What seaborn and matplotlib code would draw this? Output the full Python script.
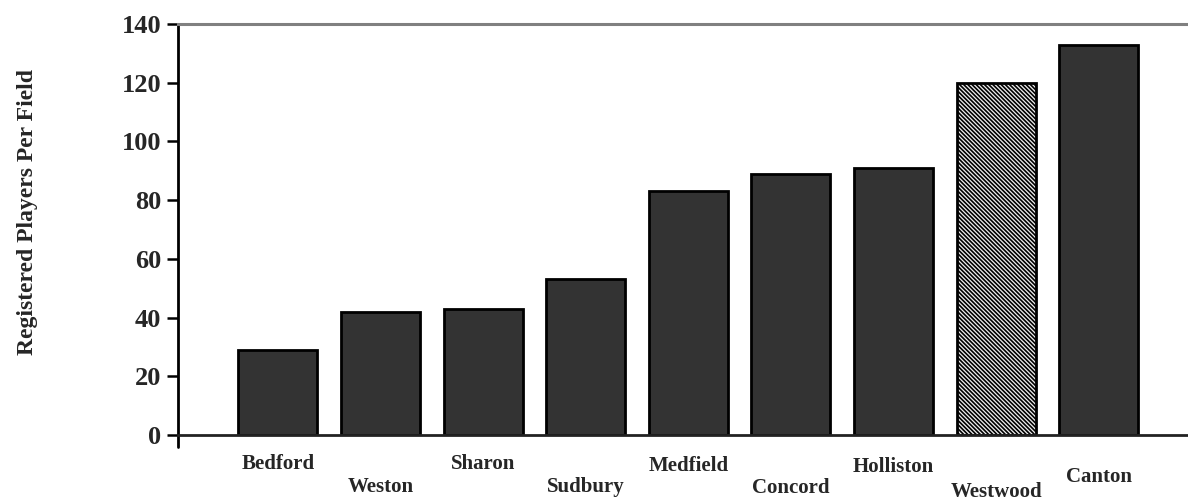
import matplotlib
matplotlib.use("Agg")
import matplotlib.pyplot as plt
import seaborn as sns
import pandas as pd

towns = ["Bedford", "Weston", "Sharon", "Sudbury", "Medfield",
         "Concord", "Holliston", "Westwood", "Canton"]
players_per_field = [29, 42, 43, 53, 83, 89, 91, 120, 133]
highlight = "Westwood"
y_ticks = [0, 20, 40, 60, 80, 100, 120, 140]

sns.set_theme(style="white")
plt.rcParams["font.family"] = ["Liberation Serif", "DejaVu Serif"]
plt.rcParams["font.weight"] = "bold"
plt.rcParams["hatch.linewidth"] = 1.2
plt.rcParams["hatch.color"] = "#4a4a4a"

df = pd.DataFrame({"town": towns, "players": players_per_field})
palette = {t: ("#eeeeee" if t == highlight else "#333333") for t in towns}

fig = plt.figure(figsize=(11.88, 5.0), dpi=100)
ax = fig.add_axes([0.1498, 0.13, 0.8502, 0.822])

sns.barplot(data=df, x="town", y="players", hue="town", palette=palette,
            order=towns, hue_order=towns, legend=False, width=0.77,
            edgecolor="black", linewidth=2, saturation=1, ax=ax)

for patch, t in zip(ax.patches, towns):
    if t == highlight:
        patch.set_hatch("\\" * 8)

ax.set_xlim(-0.975, 8.87)
ax.set_ylim(0, 140)
ax.set_yticks(y_ticks)
ax.set_yticklabels([str(v) for v in y_ticks], fontsize=19, fontweight="bold")
ax.tick_params(axis="y", direction="out", length=8, width=1.8, color="black",
               left=True, pad=4)
ax.tick_params(axis="x", length=0)

ax.set_xticks(range(len(towns)))
ax.set_xticklabels(towns, fontsize=15, fontweight="bold")
pads = [14, 30, 14, 30, 15, 31, 16, 34, 23]
for tick, p in zip(ax.xaxis.get_major_ticks(), pads):
    tick.set_pad(p)

ax.set_xlabel("")
ax.set_ylabel("Registered Players Per Field", fontsize=17, fontweight="bold")
ax.yaxis.set_label_coords(-0.139, 0.543)

ax.spines["right"].set_visible(False)
ax.spines["top"].set_color("#808080")
ax.spines["top"].set_linewidth(2.2)
ax.spines["left"].set_color("black")
ax.spines["left"].set_linewidth(2)
ax.spines["bottom"].set_color("#222222")
ax.spines["bottom"].set_linewidth(2)

# short downward extension of the value axis below zero
ax.plot([0, 0], [0, -0.03], transform=ax.transAxes, clip_on=False,
        color="black", linewidth=2)

fig.savefig("out.png", dpi=100)
